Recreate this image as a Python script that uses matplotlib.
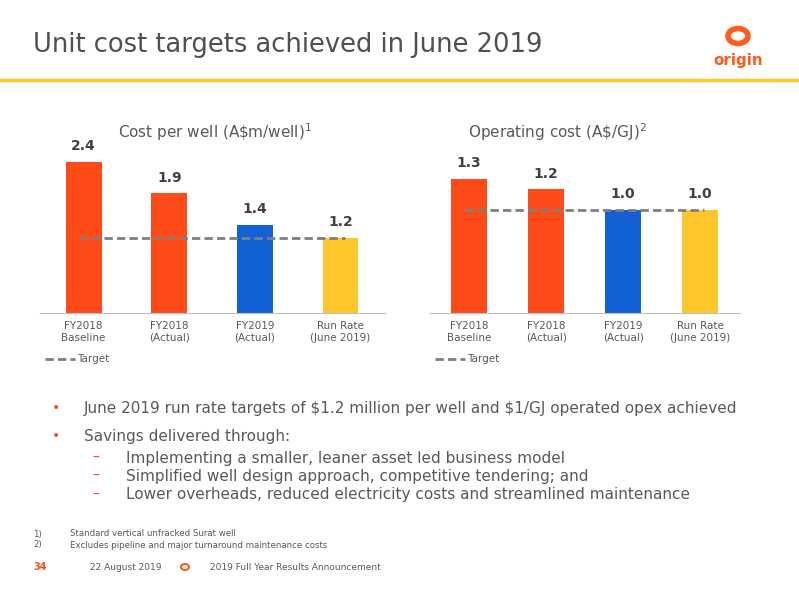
import matplotlib.pyplot as plt
from matplotlib.patches import Circle

categories = ['FY2018\nBaseline', 'FY2018\n(Actual)', 'FY2019\n(Actual)', 'Run Rate\n(June 2019)']
cost_per_well = [2.4, 1.9, 1.4, 1.2]
cost_labels = ['2.4', '1.9', '1.4', '1.2']
cost_target = 1.2
opex = [1.3, 1.2, 1.0, 1.0]
opex_labels = ['1.3', '1.2', '1.0', '1.0']
opex_target = 1.0
colors = ['#FF4B19', '#FF4B19', '#1461D6', '#FFC72C']

W, H = 799, 600
fig = plt.figure(figsize=(7.99, 6), dpi=100)
plt.rcParams['font.family'] = 'DejaVu Sans'
gray = '#595959'


def fx(px):
    return px / W


def fy(py):
    return 1 - py / H


def chart(rect, vals, labels, target, ymax, width, title, tx):
    ax = fig.add_axes(rect)
    x = range(len(vals))
    ax.bar(x, vals, width=width, color=colors)
    for i, (v, l) in enumerate(zip(vals, labels)):
        ax.text(i, v + ymax * 0.05, l, ha='center', va='bottom', fontsize=10,
                fontweight='bold', color='#404040')
    ax.plot([-0.05, 3.05], [target, target], color='#7f7f7f', lw=2, ls=(0, (3, 1.5)))
    ax.set_xlim(-0.51, 3.52)
    ax.set_ylim(0, ymax)
    ax.set_xticks(list(x))
    ax.set_xticklabels(categories, fontsize=7.5, color=gray)
    ax.tick_params(length=0, pad=6)
    ax.set_yticks([])
    for s in ['top', 'right', 'left']:
        ax.spines[s].set_visible(False)
    ax.spines['bottom'].set_color('#bfbfbf')
    fig.text(fx(tx), fy(132), title, ha='center', va='center', fontsize=11, color=gray)
    # legend
    x0 = rect[0] + fx(5)
    fig.add_artist(plt.Line2D([x0, x0 + fx(30)], [fy(359), fy(359)], color='#7f7f7f',
                              lw=2, ls=(0, (3, 1.5))))
    fig.text(x0 + fx(32), fy(359), 'Target', fontsize=7.5, color=gray, va='center')
    return ax


chart([fx(40), fy(313), fx(345), fy(140) - fy(313)], cost_per_well, cost_labels,
      cost_target, 2.75, 0.42, r'Cost per well (A\$m/well)$^{1}$', 215)
chart([fx(430), fy(313), fx(310), fy(140) - fy(313)], opex, opex_labels,
      opex_target, 1.68, 0.47, r'Operating cost (A\$/GJ)$^{2}$', 557)

# header
fig.text(fx(33), fy(45), 'Unit cost targets achieved in June 2019', fontsize=18.5,
         color='#505050', va='center')
fig.add_artist(plt.Line2D([0, 1], [fy(80), fy(80)], color='#FFC72C', lw=2.5))
fig.add_artist(Circle((fx(738), fy(36)), fx(10), transform=fig.transFigure,
                      fill=False, ec='#FF5A1F', lw=4))
fig.text(fx(738), fy(60), 'origin', fontsize=11, fontweight='bold', color='#FF5A1F',
         ha='center', va='center')

# bullets
bul = [(408, 'June 2019 run rate targets of $1.2 million per well and $1/GJ operated opex achieved'),
       (436, 'Savings delivered through:')]
for y, t in bul:
    fig.text(fx(52), fy(y), '•', color='#FF4B19', fontsize=10, va='center')
    fig.text(fx(84), fy(y), t.replace('$', r'\$'), color=gray, fontsize=11, va='center')
subs = [(458, 'Implementing a smaller, leaner asset led business model'),
        (476, 'Simplified well design approach, competitive tendering; and'),
        (495, 'Lower overheads, reduced electricity costs and streamlined maintenance')]
for y, t in subs:
    fig.text(fx(92), fy(y), '–', color='#FF4B19', fontsize=10, va='center')
    fig.text(fx(126), fy(y), t, color=gray, fontsize=11, va='center')

fig.text(fx(33), fy(534), '1)', fontsize=6.2, color=gray, va='center')
fig.text(fx(70), fy(534), 'Standard vertical unfracked Surat well', fontsize=6.2, color=gray, va='center')
fig.text(fx(33), fy(545), '2)', fontsize=6.2, color=gray, va='center')
fig.text(fx(70), fy(545), 'Excludes pipeline and major turnaround maintenance costs', fontsize=6.2,
         color=gray, va='center')

fig.text(fx(33), fy(567), '34', fontsize=7, fontweight='bold', color='#FF4B19', va='center')
fig.text(fx(90), fy(567), '22 August 2019', fontsize=6.5, color=gray, va='center')
fig.add_artist(Circle((fx(185), fy(567)), fx(4), transform=fig.transFigure,
                      fill=False, ec='#FF5A1F', lw=1.5))
fig.text(fx(210), fy(567), '2019 Full Year Results Announcement', fontsize=6.5, color=gray,
         va='center')

fig.savefig('out.png', dpi=100)
